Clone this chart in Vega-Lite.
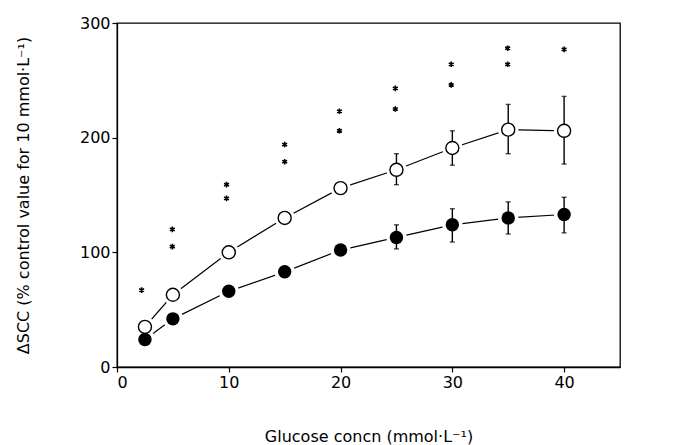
{
  "$schema": "https://vega.github.io/schema/vega-lite/v6.json",
  "width": 503,
  "height": 344,
  "autosize": {"type": "none"},
  "padding": {"left": 117, "top": 23, "right": 53, "bottom": 78},
  "background": "white",
  "config": {
    "view": {"stroke": "black", "strokeWidth": 1.3},
    "font": "DejaVu Sans",
    "axis": {
      "grid": false,
      "domainColor": "black",
      "domainWidth": 1.3,
      "tickColor": "black",
      "tickWidth": 1.2,
      "tickSize": 5,
      "labelColor": "black",
      "labelFontSize": 16,
      "labelFont": "DejaVu Sans",
      "titleFont": "DejaVu Sans",
      "titleFontSize": 16,
      "titleFontWeight": "normal",
      "titleColor": "black"
    }
  },
  "datasets": {
    "means": [
      {"conc": 2.5, "scc": 35, "group": "open", "lo": null, "hi": null},
      {"conc": 5, "scc": 63, "group": "open", "lo": null, "hi": null},
      {"conc": 10, "scc": 100, "group": "open", "lo": null, "hi": null},
      {"conc": 15, "scc": 130, "group": "open", "lo": null, "hi": null},
      {"conc": 20, "scc": 156, "group": "open", "lo": null, "hi": null},
      {"conc": 25, "scc": 172, "group": "open", "lo": 159, "hi": 186},
      {"conc": 30, "scc": 191, "group": "open", "lo": 176, "hi": 206},
      {"conc": 35, "scc": 207, "group": "open", "lo": 186, "hi": 229},
      {"conc": 40, "scc": 206, "group": "open", "lo": 177, "hi": 236},
      {"conc": 2.5, "scc": 24, "group": "filled", "lo": null, "hi": null},
      {"conc": 5, "scc": 42, "group": "filled", "lo": null, "hi": null},
      {"conc": 10, "scc": 66, "group": "filled", "lo": null, "hi": null},
      {"conc": 15, "scc": 83, "group": "filled", "lo": null, "hi": null},
      {"conc": 20, "scc": 102, "group": "filled", "lo": null, "hi": null},
      {"conc": 25, "scc": 113, "group": "filled", "lo": 103, "hi": 124},
      {"conc": 30, "scc": 124, "group": "filled", "lo": 109, "hi": 138},
      {"conc": 35, "scc": 130, "group": "filled", "lo": 116, "hi": 144},
      {"conc": 40, "scc": 133, "group": "filled", "lo": 117, "hi": 148}
    ],
    "stars": [
      {"conc": 2.2, "scc": 67},
      {"conc": 4.95, "scc": 120},
      {"conc": 4.95, "scc": 105},
      {"conc": 9.8, "scc": 159},
      {"conc": 9.8, "scc": 147},
      {"conc": 15, "scc": 194},
      {"conc": 15, "scc": 179},
      {"conc": 19.9, "scc": 223},
      {"conc": 19.9, "scc": 206},
      {"conc": 24.9, "scc": 243},
      {"conc": 24.9, "scc": 225},
      {"conc": 29.9, "scc": 264},
      {"conc": 29.9, "scc": 246},
      {"conc": 34.95, "scc": 278},
      {"conc": 34.95, "scc": 264},
      {"conc": 40, "scc": 277}
    ]
  },
  "encoding": {
    "x": {
      "field": "conc", "type": "quantitative",
      "scale": {"domain": [0, 45], "nice": false, "zero": true},
      "axis": {"values": [0, 10, 20, 30, 40], "title": "Glucose concn (mmol·L⁻¹)", "titlePadding": 38}
    },
    "y": {
      "field": "scc", "type": "quantitative",
      "scale": {"domain": [0, 300], "nice": false},
      "axis": {"values": [0, 100, 200, 300], "title": "ΔSCC (% control value for 10 mmol·L⁻¹)", "titlePadding": 48}
    }
  },
  "layer": [
    {
      "data": {"name": "means"},
      "mark": {"type": "line", "color": "black", "strokeWidth": 1.2},
      "encoding": {"detail": {"field": "group"}}
    },
    {
      "data": {"name": "means"},
      "mark": {"type": "point", "shape": "circle", "filled": true, "color": "white", "size": 420, "opacity": 1}
    },
    {
      "data": {"name": "means"},
      "transform": [{"filter": "datum.lo != null"}],
      "mark": {"type": "rule", "color": "black", "strokeWidth": 1.4},
      "encoding": {"y": {"field": "lo", "type": "quantitative"}, "y2": {"field": "hi"}}
    },
    {
      "data": {"name": "means"},
      "transform": [{"filter": "datum.lo != null"}],
      "mark": {"type": "tick", "color": "black", "orient": "horizontal", "size": 5, "thickness": 1.4},
      "encoding": {"y": {"field": "lo", "type": "quantitative"}}
    },
    {
      "data": {"name": "means"},
      "transform": [{"filter": "datum.hi != null"}],
      "mark": {"type": "tick", "color": "black", "orient": "horizontal", "size": 5, "thickness": 1.4},
      "encoding": {"y": {"field": "hi", "type": "quantitative"}}
    },
    {
      "data": {"name": "means"},
      "transform": [{"filter": "datum.group == 'open'"}],
      "mark": {"type": "point", "shape": "circle", "filled": true, "fill": "white", "stroke": "black", "strokeWidth": 1.4, "size": 170, "opacity": 1}
    },
    {
      "data": {"name": "means"},
      "transform": [{"filter": "datum.group == 'filled'"}],
      "mark": {"type": "point", "shape": "circle", "filled": true, "color": "black", "size": 180, "opacity": 1}
    },
    {
      "data": {"name": "stars"},
      "mark": {"type": "point", "shape": "M0,-1L0,1M-0.87,-0.5L0.87,0.5M-0.87,0.5L0.87,-0.5", "filled": false, "stroke": "black", "strokeWidth": 1.6, "size": 32, "opacity": 1}
    }
  ]
}
